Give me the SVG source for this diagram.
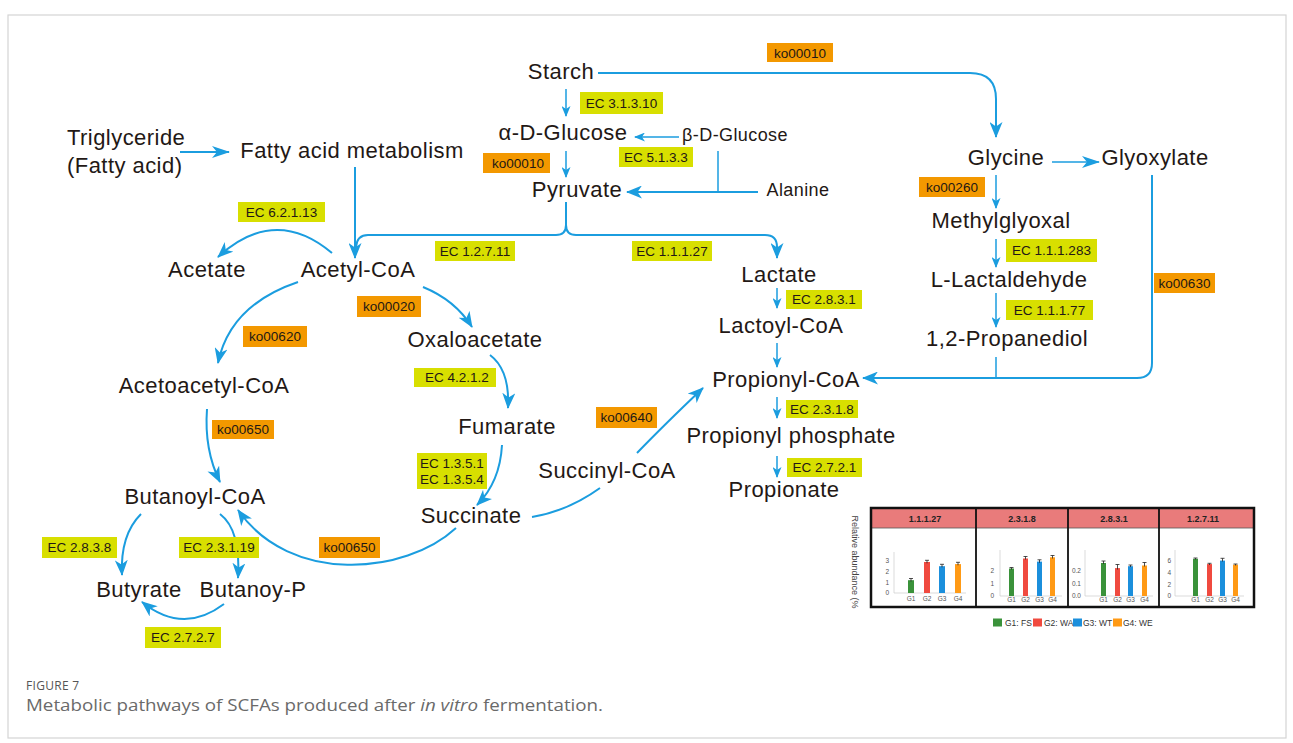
<svg xmlns="http://www.w3.org/2000/svg" width="1293" height="743" viewBox="0 0 1293 743">
<style>
.n{font-family:"Liberation Sans",Arial,sans-serif;font-size:22px;letter-spacing:0.45px;fill:#231815;text-anchor:middle}
.ns{font-family:"Liberation Sans",Arial,sans-serif;font-size:18px;letter-spacing:0.4px;fill:#231815;text-anchor:middle}
.ec{fill:#d8df00}
.ko{fill:#f39800}
.lt{font-family:"Liberation Sans",Arial,sans-serif;font-size:13.5px;fill:#231815;text-anchor:middle}
.c{fill:none;stroke:#1b9ddf;stroke-width:2}
.t{fill:none;stroke:#1b9ddf;stroke-width:1.5}
.bt{font-family:"Liberation Sans",Arial,sans-serif;font-size:6.5px;fill:#555}
.hd{font-family:"Liberation Sans",Arial,sans-serif;font-size:9px;font-weight:bold;fill:#222;text-anchor:middle}
.eb{stroke:#222;stroke-width:0.8;fill:none}
</style>
<defs>
<marker id="aBig" viewBox="0 0 16 13" refX="15" refY="6.5" markerWidth="16" markerHeight="13" orient="auto" markerUnits="userSpaceOnUse"><path d="M0,0 L16,6.5 L0,13 L4.5,6.5 z" fill="#1b9ddf"/></marker>
<marker id="aLong" viewBox="0 0 18 12" refX="17" refY="6" markerWidth="18" markerHeight="12" orient="auto" markerUnits="userSpaceOnUse"><path d="M0,0 L18,6 L0,12 L5,6 z" fill="#1b9ddf"/></marker>
<marker id="aSm" viewBox="0 0 11 9" refX="10" refY="4.5" markerWidth="11" markerHeight="9" orient="auto" markerUnits="userSpaceOnUse"><path d="M0,0 L11,4.5 L0,9 L3,4.5 z" fill="#1b9ddf"/></marker>
</defs>
<rect x="0" y="0" width="1293" height="743" fill="#fff"/>
<rect x="8" y="15" width="1278" height="723" fill="none" stroke="#d4d4d4" stroke-width="1.2"/>

<g id="connectors">
<path class="t" d="M566,89V116" marker-end="url(#aSm)"/>
<path class="t" d="M566,151V177" marker-end="url(#aSm)"/>
<path class="t" d="M679,137H635" marker-end="url(#aSm)"/>
<path class="t" d="M718,151V192"/>
<path class="c" d="M758,192H627" marker-end="url(#aBig)"/>
<path class="c" d="M598,73H970Q996,73 996,99V137" marker-end="url(#aBig)"/>
<path class="c" d="M180,152H229" marker-end="url(#aLong)"/>
<path class="c" d="M355,167V258" marker-end="url(#aBig)"/>
<path class="c" d="M566,202V225Q566,235 556,235H368Q357,235 356,247"/>
<path class="c" d="M566,225Q566,235 576,235H765Q777,235 777,247V258" marker-end="url(#aBig)"/>
<path class="c" d="M332,253Q275,205 218,257" marker-end="url(#aBig)"/>
<path class="c" d="M298,282Q230,305 218,363" marker-end="url(#aBig)"/>
<path class="c" d="M423,287Q455,300 472,327" marker-end="url(#aBig)"/>
<path class="c" d="M490,355Q510,370 508,408" marker-end="url(#aBig)"/>
<path class="c" d="M502,445Q500,482 477,505" marker-end="url(#aBig)"/>
<path class="c" d="M532,517Q568,511 600,488"/>
<path class="c" d="M637,453Q664,425 703,388" marker-end="url(#aBig)"/>
<path class="c" d="M207,409Q204,450 220,482" marker-end="url(#aBig)"/>
<path class="c" d="M141,514Q120,535 122,575" marker-end="url(#aBig)"/>
<path class="c" d="M220,514Q241,530 238,578" marker-end="url(#aBig)"/>
<path class="c" d="M224,604Q183,635 142,602" marker-end="url(#aBig)"/>
<path class="c" d="M456,528C405,575 290,585 238,510" marker-end="url(#aBig)"/>
<path class="t" d="M1052,162H1099" marker-end="url(#aLong)"/>
<path class="t" d="M996,175V208" marker-end="url(#aSm)"/>
<path class="t" d="M996,239V267" marker-end="url(#aSm)"/>
<path class="t" d="M996,293V327" marker-end="url(#aSm)"/>
<path class="t" d="M996,357V378"/>
<path class="c" d="M1152,175V363Q1152,378 1137,378H863" marker-end="url(#aBig)"/>
<path class="t" d="M777,288V308" marker-end="url(#aSm)"/>
<path class="t" d="M777,343V367" marker-end="url(#aSm)"/>
<path class="t" d="M777,397V418" marker-end="url(#aSm)"/>
<path class="t" d="M777,456V477" marker-end="url(#aSm)"/>
</g>

<g id="labels">
<rect class="ko" x="767" y="43" width="66" height="19"/><text class="lt" x="800" y="57.5">ko00010</text>
<rect class="ec" x="580" y="92" width="83" height="22"/><text class="lt" x="621.5" y="107.8">EC 3.1.3.10</text>
<rect class="ec" x="619" y="147" width="74" height="20"/><text class="lt" x="656" y="161.8">EC 5.1.3.3</text>
<rect class="ko" x="483" y="153" width="67" height="20"/><text class="lt" x="518" y="167.8">ko00010</text>
<rect class="ec" x="238" y="202" width="87" height="20"/><text class="lt" x="281.5" y="216.8">EC 6.2.1.13</text>
<rect class="ec" x="435" y="241" width="80" height="20"/><text class="lt" x="475" y="255.8">EC 1.2.7.11</text>
<rect class="ec" x="632" y="241" width="80" height="20"/><text class="lt" x="672" y="255.8">EC 1.1.1.27</text>
<rect class="ko" x="357" y="296" width="64" height="21"/><text class="lt" x="389" y="311.3">ko00020</text>
<rect class="ko" x="243" y="326" width="64" height="21"/><text class="lt" x="275" y="341.3">ko00620</text>
<rect class="ec" x="414" y="368" width="82" height="19"/><text class="lt" x="457" y="382.3">EC 4.2.1.2</text>
<rect class="ko" x="212" y="420" width="62" height="19"/><text class="lt" x="243" y="434.3">ko00650</text>
<rect class="ec" x="417" y="453" width="70" height="36"/><text class="lt" x="452" y="468">EC 1.3.5.1</text><text class="lt" x="452" y="483.5">EC 1.3.5.4</text>
<rect class="ko" x="596" y="407" width="61" height="21"/><text class="lt" x="626.5" y="422.3">ko00640</text>
<rect class="ko" x="319" y="537" width="61" height="21"/><text class="lt" x="349.5" y="552.3">ko00650</text>
<rect class="ec" x="42" y="537" width="75" height="21"/><text class="lt" x="79.5" y="552.3">EC 2.8.3.8</text>
<rect class="ec" x="179" y="537" width="80" height="21"/><text class="lt" x="219" y="552.3">EC 2.3.1.19</text>
<rect class="ec" x="145" y="627" width="76" height="21"/><text class="lt" x="183" y="642.3">EC 2.7.2.7</text>
<rect class="ec" x="786" y="290" width="76" height="19"/><text class="lt" x="824" y="304.3">EC 2.8.3.1</text>
<rect class="ec" x="786" y="400" width="72" height="18"/><text class="lt" x="822" y="413.8">EC 2.3.1.8</text>
<rect class="ec" x="787" y="458" width="75" height="19"/><text class="lt" x="824.5" y="472.3">EC 2.7.2.1</text>
<rect class="ko" x="919" y="177" width="66" height="20"/><text class="lt" x="952" y="191.8">ko00260</text>
<rect class="ec" x="1006" y="239" width="91" height="23"/><text class="lt" x="1051.5" y="255.3">EC 1.1.1.283</text>
<rect class="ec" x="1006" y="300" width="87" height="20"/><text class="lt" x="1049.5" y="314.8">EC 1.1.1.77</text>
<rect class="ko" x="1154" y="273" width="61" height="20"/><text class="lt" x="1184.5" y="287.8">ko00630</text>
</g>

<g id="n-starch"><text class="n" x="561" y="79">Starch</text></g>
<g id="n-aglucose"><text class="n" x="563" y="140">α-D-Glucose</text></g>
<g id="n-bglucose"><text class="ns" x="735" y="141">β-D-Glucose</text></g>
<g id="n-pyruvate"><text class="n" x="577" y="197">Pyruvate</text></g>
<g id="n-alanine"><text class="ns" x="798" y="196">Alanine</text></g>
<g id="n-triglyceride"><text class="n" x="67" y="145" style="text-anchor:start">Triglyceride</text><text class="n" x="67" y="173" style="text-anchor:start">(Fatty acid)</text></g>
<g id="n-fam"><text class="n" x="352" y="158">Fatty acid metabolism</text></g>
<g id="n-acetate"><text class="n" x="207" y="277">Acetate</text></g>
<g id="n-acetylcoa"><text class="n" x="358" y="277">Acetyl-CoA</text></g>
<g id="n-oxaloacetate"><text class="n" x="475" y="347">Oxaloacetate</text></g>
<g id="n-acetoacetylcoa"><text class="n" x="204" y="393">Acetoacetyl-CoA</text></g>
<g id="n-fumarate"><text class="n" x="507" y="434">Fumarate</text></g>
<g id="n-butanoylcoa"><text class="n" x="195" y="504">Butanoyl-CoA</text></g>
<g id="n-succinate"><text class="n" x="471" y="523">Succinate</text></g>
<g id="n-succinylcoa"><text class="n" x="607" y="478">Succinyl-CoA</text></g>
<g id="n-butyrate"><text class="n" x="139" y="597">Butyrate</text></g>
<g id="n-butanoyp"><text class="n" x="253" y="597">Butanoy-P</text></g>
<g id="n-lactate"><text class="n" x="779" y="282">Lactate</text></g>
<g id="n-lactoylcoa"><text class="n" x="781" y="333">Lactoyl-CoA</text></g>
<g id="n-propionylcoa"><text class="n" x="786" y="387">Propionyl-CoA</text></g>
<g id="n-propphos"><text class="n" x="791" y="443">Propionyl phosphate</text></g>
<g id="n-propionate"><text class="n" x="784" y="497">Propionate</text></g>
<g id="n-glycine"><text class="n" x="1006" y="165">Glycine</text></g>
<g id="n-glyoxylate"><text class="n" x="1155" y="165">Glyoxylate</text></g>
<g id="n-methylglyoxal"><text class="n" x="1001" y="228">Methylglyoxal</text></g>
<g id="n-lactaldehyde"><text class="n" x="1009" y="287">L-Lactaldehyde</text></g>
<g id="n-propanediol"><text class="n" x="1007" y="346">1,2-Propanediol</text></g>

<g id="inset">
<rect x="871" y="508" width="383" height="99" fill="#fff"/>
<rect x="871" y="508" width="383" height="20" fill="#e97b7b"/>
<line x1="871" y1="528" x2="1254" y2="528" stroke="#555" stroke-width="0.8"/>
<path d="M976,508V607M1068,508V607M1159,508V607" stroke="#111" stroke-width="1.8"/>
<rect x="871" y="508" width="383" height="99" fill="none" stroke="#111" stroke-width="2.5"/>
<text class="hd" x="925" y="521.5">1.1.1.27</text>
<text class="hd" x="1022" y="521.5">2.3.1.8</text>
<text class="hd" x="1114" y="521.5">2.8.3.1</text>
<text class="hd" x="1203" y="521.5">1.2.7.11</text>
<text class="bt" transform="translate(852,562) rotate(90)" style="font-size:9px;text-anchor:middle;fill:#444">Relative abundance (%</text>

<path d="M894,552V593H966" stroke="#ccc" stroke-width="0.7" fill="none"/>
<g class="bt" style="text-anchor:end"><text x="889" y="595.3">0</text><text x="889" y="584.6">1</text><text x="889" y="573.9">2</text><text x="889" y="563.2">3</text></g>
<rect x="908" y="580.2" width="6" height="12.8" fill="#3a923a"/>
<rect x="924" y="562" width="6" height="31" fill="#f04a3f"/>
<rect x="939" y="566.2" width="6" height="26.8" fill="#1b8fdc"/>
<rect x="955" y="564.1" width="6" height="28.9" fill="#ff9a15"/>
<path class="eb" d="M911,578.5V581.5M909,578.5H913M927,560.3V563.3M925,560.3H929M942,564.3V567.3M940,564.3H944M958,562.3V565.3M956,562.3H960"/>
<g class="bt" style="text-anchor:middle"><text x="911" y="600.5">G1</text><text x="927" y="600.5">G2</text><text x="942" y="600.5">G3</text><text x="958" y="600.5">G4</text></g>

<path d="M1000,550V596H1062" stroke="#ccc" stroke-width="0.7" fill="none"/>
<g class="bt" style="text-anchor:end"><text x="994" y="598.3">0</text><text x="994" y="585.8">1</text><text x="994" y="573.3">2</text></g>
<rect x="1009" y="568.5" width="5" height="27.5" fill="#3a923a"/>
<rect x="1023" y="558.5" width="5" height="37.5" fill="#f04a3f"/>
<rect x="1037" y="561.6" width="5" height="34.4" fill="#1b8fdc"/>
<rect x="1050" y="557.3" width="5" height="38.7" fill="#ff9a15"/>
<path class="eb" d="M1011.5,567.5V569.5M1009.5,567.5H1013.5M1025.5,556.5V559.5M1023.5,556.5H1027.5M1039.5,559.8V562.8M1037.5,559.8H1041.5M1052.5,555.5V558.5M1050.5,555.5H1054.5"/>
<g class="bt" style="text-anchor:middle"><text x="1011.5" y="602">G1</text><text x="1025.5" y="602">G2</text><text x="1039.5" y="602">G3</text><text x="1052.5" y="602">G4</text></g>

<path d="M1085,550V596H1153" stroke="#ccc" stroke-width="0.7" fill="none"/>
<g class="bt" style="text-anchor:end"><text x="1081" y="598.3">0.0</text><text x="1081" y="585.6">0.1</text><text x="1081" y="572.9">0.2</text></g>
<rect x="1101" y="563" width="5" height="33" fill="#3a923a"/>
<rect x="1115" y="568.1" width="5" height="27.9" fill="#f04a3f"/>
<rect x="1128" y="566.2" width="5" height="29.8" fill="#1b8fdc"/>
<rect x="1142" y="565.5" width="5" height="30.5" fill="#ff9a15"/>
<path class="eb" d="M1103.5,561V564M1101.5,561H1105.5M1117.5,564.5V569.5M1115.5,564.5H1119.5M1130.5,565V567M1128.5,565H1132.5M1144.5,562.5V566.5M1142.5,562.5H1146.5"/>
<g class="bt" style="text-anchor:middle"><text x="1103.5" y="602">G1</text><text x="1117.5" y="602">G2</text><text x="1130.5" y="602">G3</text><text x="1144.5" y="602">G4</text></g>

<path d="M1175,550V596H1244" stroke="#ccc" stroke-width="0.7" fill="none"/>
<g class="bt" style="text-anchor:end"><text x="1171" y="598.3">0</text><text x="1171" y="586.5">2</text><text x="1171" y="574.7">4</text><text x="1171" y="562.9">6</text></g>
<rect x="1193" y="558.8" width="5" height="37.2" fill="#3a923a"/>
<rect x="1207" y="564.1" width="5" height="31.9" fill="#f04a3f"/>
<rect x="1220" y="560.6" width="5" height="35.4" fill="#1b8fdc"/>
<rect x="1233" y="564.7" width="5" height="31.3" fill="#ff9a15"/>
<path class="eb" d="M1195.5,558V559.5M1193.5,558H1197.5M1209.5,563.3V565M1207.5,563.3H1211.5M1222.5,558.3V561.5M1220.5,558.3H1224.5M1235.5,564V565.5M1233.5,564H1237.5"/>
<g class="bt" style="text-anchor:middle"><text x="1195.5" y="602">G1</text><text x="1209.5" y="602">G2</text><text x="1222.5" y="602">G3</text><text x="1235.5" y="602">G4</text></g>

<rect x="993" y="618.5" width="9" height="8" fill="#3a923a"/>
<rect x="1033" y="618.5" width="9" height="8" fill="#f04a3f"/>
<rect x="1073" y="618.5" width="9" height="8" fill="#1b8fdc"/>
<rect x="1113" y="618.5" width="9" height="8" fill="#ff9a15"/>
<g class="bt" style="font-size:8.5px;fill:#333"><text x="1005" y="625.5">G1: FS</text><text x="1044" y="625.5">G2: WA</text><text x="1083" y="625.5">G3: WT</text><text x="1123" y="625.5">G4: WE</text></g>
</g>

<g id="caption">
<text x="26" y="690" style="font-family:'Open Sans','Liberation Sans',sans-serif;font-size:12px;letter-spacing:0.3px;fill:#555">FIGURE 7</text>
<text x="26" y="711" textLength="577" lengthAdjust="spacingAndGlyphs" style="font-family:'Open Sans','Liberation Sans',sans-serif;font-size:16.5px;fill:#6a6a6a">Metabolic pathways of SCFAs produced after <tspan font-style="italic">in vitro</tspan> fermentation.</text>
</g>
</svg>
